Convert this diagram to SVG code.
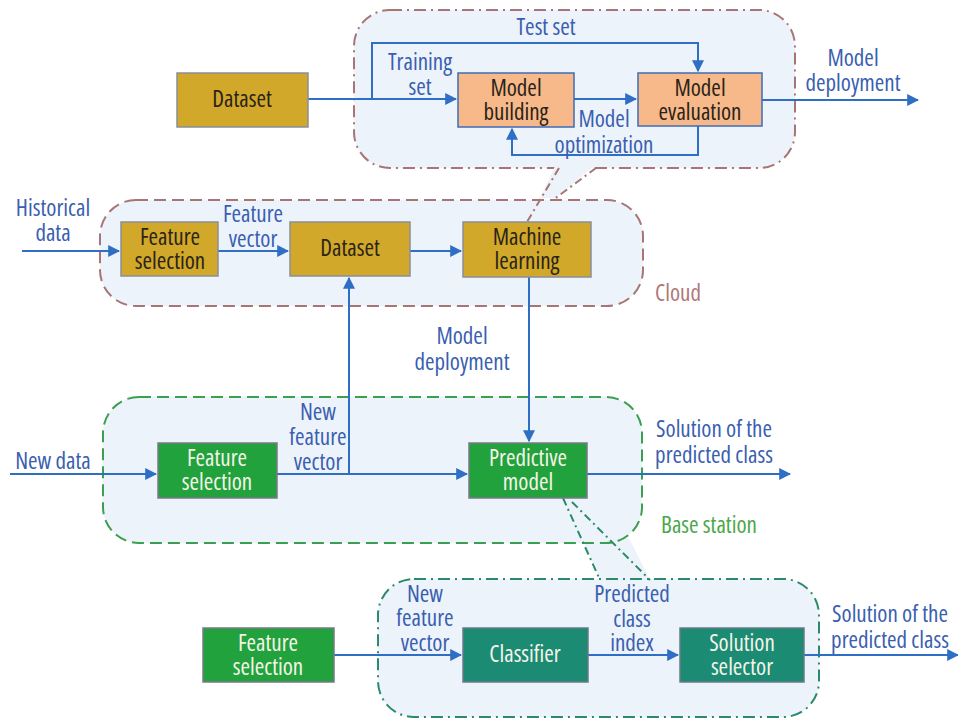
<svg xmlns="http://www.w3.org/2000/svg" width="958" height="719" viewBox="0 0 958 719">
<style>
text{font-family:"Open Sans","DejaVu Sans Condensed","Liberation Sans",sans-serif;font-stretch:75%;font-size:23px;text-anchor:middle}
.lbl{fill:#3a5fb0}
.dk{fill:#2a2418}
.wt{fill:#f4f4e8}
.region{fill:#edf3fa;stroke-width:2}
.conn{fill:none;stroke:#2e6ec4;stroke-width:2}
.gold{fill:#d1a82a;stroke:#8a8f9a;stroke-width:1.5}
.orange{fill:#f8b98a;stroke:#3f6cb8;stroke-width:1.5}
.green{fill:#21a23c;stroke:#7a7a88;stroke-width:1.5}
.teal{fill:#1b8b74;stroke:#6a7a88;stroke-width:1.5}
.wedge{fill:#edf3fa;stroke:none}
</style>
<defs>
<marker id="ah" viewBox="0 0 10 10" refX="9" refY="5" markerWidth="6" markerHeight="6" orient="auto" markerUnits="strokeWidth">
<path d="M0,0 L10,5 L0,10 z" fill="#2e6ec4"/>
</marker>
</defs>
<rect width="958" height="719" fill="#ffffff"/>

<!-- regions -->
<g id="regions">
<polygon class="wedge" points="565,498 600,580 650,580 630,540"/>
<rect id="top-region" class="region" x="354" y="10" width="441" height="158" rx="36" stroke="#a87474" stroke-dasharray="12,5,2,5"/>
<rect id="cloud-region" class="region" x="100" y="200" width="543" height="106" rx="36" stroke="#a87474" stroke-dasharray="12,6"/>
<rect id="base-region" class="region" x="103" y="397" width="539" height="146" rx="36" stroke="#3aa050" stroke-dasharray="12,6"/>
<rect id="bottom-region" class="region" x="378" y="579" width="441" height="138" rx="36" stroke="#2a8a6a" stroke-dasharray="12,5,2,5"/>
<polygon class="wedge" points="555,166 594,166 556,198 540,198"/>
<g fill="none" stroke-width="2">
<line x1="559" y1="168" x2="527" y2="222" stroke="#a87474" stroke-dasharray="8,4,2,4"/>
<line x1="596" y1="168" x2="553" y2="200" stroke="#a87474" stroke-dasharray="8,4,2,4"/>
<line x1="563" y1="498" x2="600" y2="580" stroke="#2a8a6a" stroke-dasharray="8,4,2,4"/>
<line x1="572" y1="502" x2="650" y2="580" stroke="#2a8a6a" stroke-dasharray="8,4,2,4"/>
</g>
<text x="678" y="301" style="fill:#b07878">Cloud</text>
<text x="709" y="533" style="fill:#4aa84a">Base station</text>
</g>

<!-- connectors -->
<g id="connectors">
<path class="conn" d="M308,99 L456,99" marker-end="url(#ah)"/>
<path class="conn" d="M372,99 L372,43 L698,43 L698,71" marker-end="url(#ah)"/>
<path class="conn" d="M574,99 L636,99" marker-end="url(#ah)"/>
<path class="conn" d="M698,126 L698,155 L512,155 L512,129" marker-end="url(#ah)"/>
<path class="conn" d="M762,100 L918,100" marker-end="url(#ah)"/>
<path class="conn" d="M22,251 L119,251" marker-end="url(#ah)"/>
<path class="conn" d="M218,251 L288,251" marker-end="url(#ah)"/>
<path class="conn" d="M410,251 L461,251" marker-end="url(#ah)"/>
<path class="conn" d="M529,277 L529,441" marker-end="url(#ah)"/>
<path class="conn" d="M349,474 L349,278" marker-end="url(#ah)"/>
<path class="conn" d="M10,474 L156,474" marker-end="url(#ah)"/>
<path class="conn" d="M277,474 L467,474" marker-end="url(#ah)"/>
<path class="conn" d="M587,474 L790,474" marker-end="url(#ah)"/>
<path class="conn" d="M334,655 L461,655" marker-end="url(#ah)"/>
<path class="conn" d="M588,655 L678,655" marker-end="url(#ah)"/>
<path class="conn" d="M804,655 L958,655" marker-end="url(#ah)"/>
<g class="lbl">
<text x="546" y="35">Test set</text>
<text x="420" y="70">Training<tspan x="420" dy="25">set</tspan></text>
<text x="604" y="127">Model<tspan x="604" dy="26">optimization</tspan></text>
<text x="853" y="66">Model<tspan x="853" dy="25">deployment</tspan></text>
<text x="53" y="216">Historical<tspan x="53" dy="25">data</tspan></text>
<text x="253" y="222">Feature<tspan x="253" dy="25">vector</tspan></text>
<text x="462" y="344">Model<tspan x="462" dy="26">deployment</tspan></text>
<text x="53" y="469">New data</text>
<text x="318" y="420">New<tspan x="318" dy="25">feature</tspan><tspan x="318" dy="25">vector</tspan></text>
<text x="714" y="437">Solution of the<tspan x="714" dy="26">predicted class</tspan></text>
<text x="425" y="602">New<tspan x="425" dy="24">feature</tspan><tspan x="425" dy="25">vector</tspan></text>
<text x="632" y="602">Predicted<tspan x="632" dy="25">class</tspan><tspan x="632" dy="24">index</tspan></text>
<text x="890" y="622">Solution of the<tspan x="890" dy="26">predicted class</tspan></text>
</g>
</g>

<!-- nodes -->
<g id="dataset-top"><rect class="gold" x="177" y="73" width="131" height="54"/><text class="dk" x="242" y="107">Dataset</text></g>
<g id="model-building"><rect class="orange" x="458" y="73" width="116" height="54"/><text class="dk" x="516" y="96">Model<tspan x="516" dy="24">building</tspan></text></g>
<g id="model-evaluation"><rect class="orange" x="638" y="73" width="124" height="53"/><text class="dk" x="700" y="96">Model<tspan x="700" dy="24">evaluation</tspan></text></g>
<g id="feature-selection-cloud"><rect class="gold" x="121" y="222" width="97" height="54"/><text class="dk" x="170" y="245">Feature<tspan x="170" dy="24">selection</tspan></text></g>
<g id="dataset-cloud"><rect class="gold" x="290" y="222" width="120" height="54"/><text class="dk" x="350" y="256">Dataset</text></g>
<g id="machine-learning"><rect class="gold" x="463" y="222" width="128" height="55"/><text class="dk" x="527" y="245">Machine<tspan x="527" dy="24">learning</tspan></text></g>
<g id="feature-selection-base"><rect class="green" x="158" y="443" width="119" height="55"/><text class="wt" x="217" y="466">Feature<tspan x="217" dy="24">selection</tspan></text></g>
<g id="predictive-model"><rect class="green" x="469" y="443" width="118" height="55"/><text class="wt" x="528" y="466">Predictive<tspan x="528" dy="24">model</tspan></text></g>
<g id="feature-selection-bottom"><rect class="green" x="203" y="628" width="131" height="54"/><text class="wt" x="268" y="651">Feature<tspan x="268" dy="24">selection</tspan></text></g>
<g id="classifier"><rect class="teal" x="463" y="628" width="125" height="54"/><text class="wt" x="525" y="662">Classifier</text></g>
<g id="solution-selector"><rect class="teal" x="680" y="628" width="124" height="54"/><text class="wt" x="742" y="651">Solution<tspan x="742" dy="24">selector</tspan></text></g>
</svg>
